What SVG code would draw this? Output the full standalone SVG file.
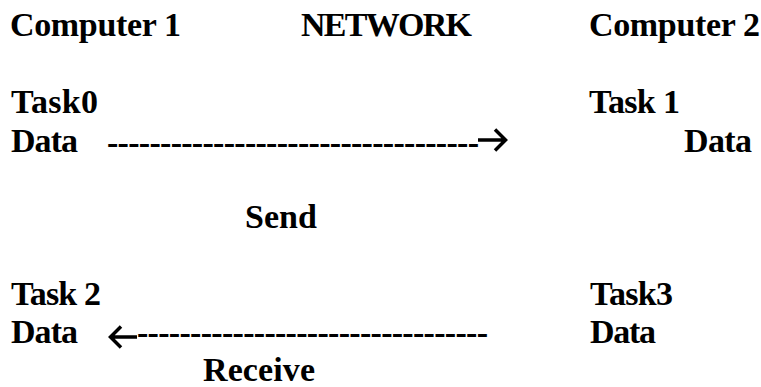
<svg xmlns="http://www.w3.org/2000/svg" width="761" height="387" viewBox="0 0 761 387">
<style>
text{font-family:"Liberation Serif","DejaVu Serif",serif;font-weight:bold;font-size:34px;fill:#000}
.ah{fill:none;stroke:#000;stroke-width:3.5;stroke-linecap:butt;stroke-linejoin:miter}
</style>
<rect width="761" height="387" fill="#fff"/>
<g id="computer1"><text x="10" y="36" textLength="171">Computer 1</text></g>
<g id="network"><text x="301" y="36" textLength="171">NETWORK</text></g>
<g id="computer2"><text x="589" y="36" textLength="171">Computer 2</text></g>
<g id="task0"><text x="11" y="113" textLength="87">Task0</text><text x="11" y="152" textLength="67">Data</text></g>
<g id="task1"><text x="589" y="113" textLength="91">Task 1</text><text x="684" y="152" textLength="68">Data</text></g>
<g id="task2"><text x="11" y="305" textLength="90">Task 2</text><text x="11" y="343" textLength="67">Data</text></g>
<g id="task3"><text x="590" y="305" textLength="83">Task3</text><text x="590" y="343" textLength="66">Data</text></g>
<g id="labels"><text x="245" y="228" textLength="72">Send</text><text x="203" y="381" textLength="112">Receive</text></g>
<g id="connectors">
<text x="107" y="154" textLength="372">-----------------------------------</text>
<path class="ah" d="M478 140H505M495 129.5L505.5 140L495 150.5"/>
<path class="ah" d="M137 337H111M121 326.5L110.5 337L121 347.5"/>
<text x="137" y="344" textLength="351">---------------------------------</text>
</g>
</svg>
